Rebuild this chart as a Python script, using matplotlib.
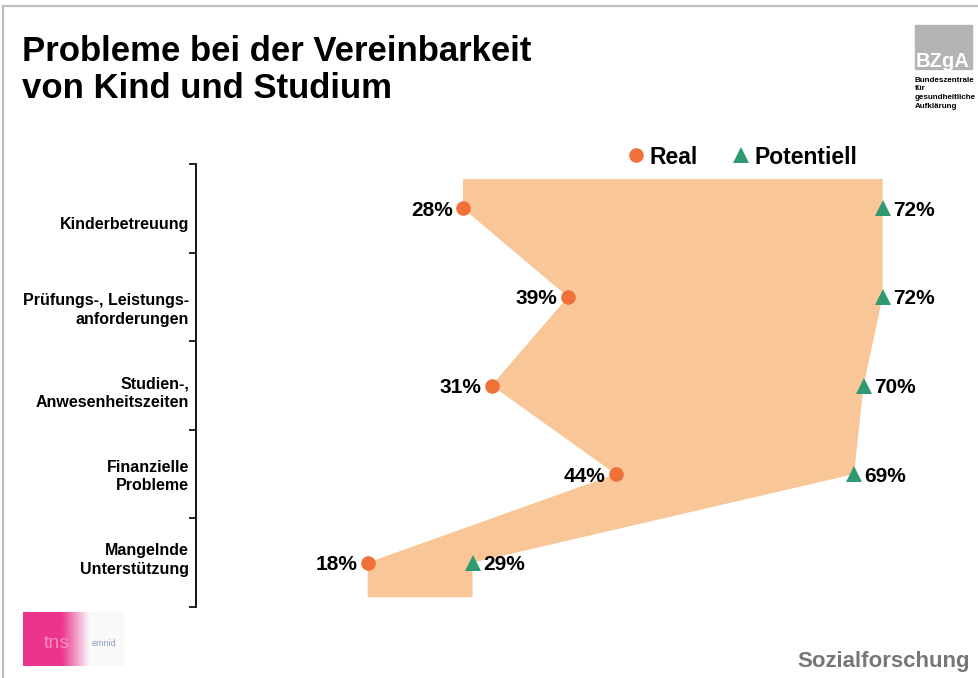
import matplotlib.pyplot as plt
from matplotlib.lines import Line2D
from matplotlib.patches import Rectangle, Polygon
import numpy as np

plt.rcParams['font.family'] = ['Liberation Sans', 'DejaVu Sans']

categories = ["Kinderbetreuung", "Prüfungs-, Leistungs-\nanforderungen",
              "Studien-,\nAnwesenheitszeiten", "Finanzielle\nProbleme",
              "Mangelnde\nUnterstützung"]
real = [28, 39, 31, 44, 18]
potentiell = [72, 72, 70, 69, 29]
legend_labels = ["Real", "Potentiell"]

FILL = '#F8C697'
ORANGE = '#F0703A'
GREEN = '#2E9A6F'

W, H = 979, 678
fig = plt.figure(figsize=(W / 100, H / 100), dpi=100)


def fx(px):
    return px / W


def fy(px):
    return 1 - px / H


# plot area in pixel coords of the reference
ax_l, ax_r, ax_t, ax_b = 196, 978, 164, 607
ax = fig.add_axes([fx(ax_l), fy(ax_b), (ax_r - ax_l) / W, (ax_b - ax_t) / H])
ax.set_xlim(0, 82)
ax.set_ylim(len(categories) - 0.5, -0.5)

y = np.arange(len(categories))

# filled band between the two series, extended a bit above and below
top_ext, bot_ext = 0.33, 0.39
pts = [(real[0], y[0] - top_ext)]
pts += list(zip(real, y))
pts += [(real[-1], y[-1] + bot_ext), (potentiell[-1], y[-1] + bot_ext)]
pts += list(zip(potentiell[::-1], y[::-1]))
pts += [(potentiell[0], y[0] - top_ext)]
ax.add_patch(Polygon(pts, closed=True, facecolor=FILL, edgecolor='none', zorder=1))

ax.plot(real, y, 'o', color=ORANGE, markersize=10.5, markeredgewidth=0, zorder=3)
ax.plot(potentiell, y, '^', color=GREEN, markersize=11, markeredgewidth=0, zorder=3)

for v, yy in zip(real, y):
    ax.annotate(f"{v}%", (v, yy), xytext=(-7.5, 0), textcoords='offset points',
                ha='right', va='center_baseline', fontsize=15, fontweight='bold')
for v, yy in zip(potentiell, y):
    ax.annotate(f"{v}%", (v, yy), xytext=(7.5, 0), textcoords='offset points',
                ha='left', va='center_baseline', fontsize=15, fontweight='bold')

# axes styling
for s in ['top', 'right', 'bottom']:
    ax.spines[s].set_visible(False)
ax.spines['left'].set_linewidth(1.3)
ax.set_xticks([])
# category labels sit a little off the marker rows in the original
ax.set_yticks(0.17 + 0.94 * y)
ax.set_yticklabels(categories, fontsize=11.5, fontweight='bold', linespacing=1.3)
ax.tick_params(axis='y', which='major', length=0, pad=5)
ax.set_yticks(np.arange(-0.5, len(categories)), minor=True)
ax.tick_params(axis='y', which='minor', length=5, width=1.2, direction='out')

# legend, placed by hand
fig.add_artist(Line2D([fx(636)], [fy(155)], marker='o', color=ORANGE, markersize=10.5,
                      markeredgewidth=0, linestyle='none', transform=fig.transFigure))
fig.text(fx(650), fy(155), legend_labels[0], fontsize=16.5, fontweight='bold',
         va='center_baseline', ha='left')
fig.add_artist(Line2D([fx(741)], [fy(155)], marker='^', color=GREEN, markersize=11,
                      markeredgewidth=0, linestyle='none', transform=fig.transFigure))
fig.text(fx(755), fy(155), legend_labels[1], fontsize=16.5, fontweight='bold',
         va='center_baseline', ha='left')

# title
fig.text(fx(22), fy(61), "Probleme bei der Vereinbarkeit", fontsize=25, fontweight='bold',
         ha='left', va='baseline')
fig.text(fx(22), fy(98), "von Kind und Studium", fontsize=25, fontweight='bold',
         ha='left', va='baseline')

# frame lines
fig.add_artist(Line2D([fx(3), 1], [fy(6), fy(6)], color='#BEBEBE', linewidth=1.6))
fig.add_artist(Line2D([fx(3), fx(3)], [0, fy(6)], color='#BEBEBE', linewidth=1.6))

# BZgA logo
fig.add_artist(Rectangle((fx(915), fy(69)), 57 / W, 44 / H, color='#B4B4B4',
                         transform=fig.transFigure))
fig.text(fx(943), fy(67), "BZgA", color='white', fontsize=14.5, fontweight='bold',
         ha='center', va='baseline')
fig.text(fx(915), fy(77), "Bundeszentrale\nfür\ngesundheitliche\nAufklärung",
         fontsize=5.8, fontweight='bold', ha='left', va='top', linespacing=1.3)

# tns emnid logo (blurred)
lax = fig.add_axes([fx(23), fy(666), 101 / W, 54 / H])
grad = np.linspace(0, 1, 100)
fade = np.clip((grad - 0.38) / 0.28, 0, 1)
pink = np.array([236, 52, 140]) / 255
img = np.ones((10, 100, 3))
for c in range(3):
    img[:, :, c] = pink[c] * (1 - fade) + 0.98 * fade
lax.imshow(img, aspect='auto', extent=(0, 1, 0, 1))
lax.text(0.33, 0.42, "tns", color='#F4A0C8', fontsize=14, ha='center', va='center', alpha=0.8)
lax.text(0.8, 0.42, "emnid", color='#8AA0C0', fontsize=6.5, ha='center', va='center')
lax.set_xlim(0, 1)
lax.set_ylim(0, 1)
lax.axis('off')

fig.text(fx(970), fy(667), "Sozialforschung", color='#777777', fontsize=16,
         fontweight='bold', ha='right', va='baseline')

fig.savefig('out.png', dpi=100)
